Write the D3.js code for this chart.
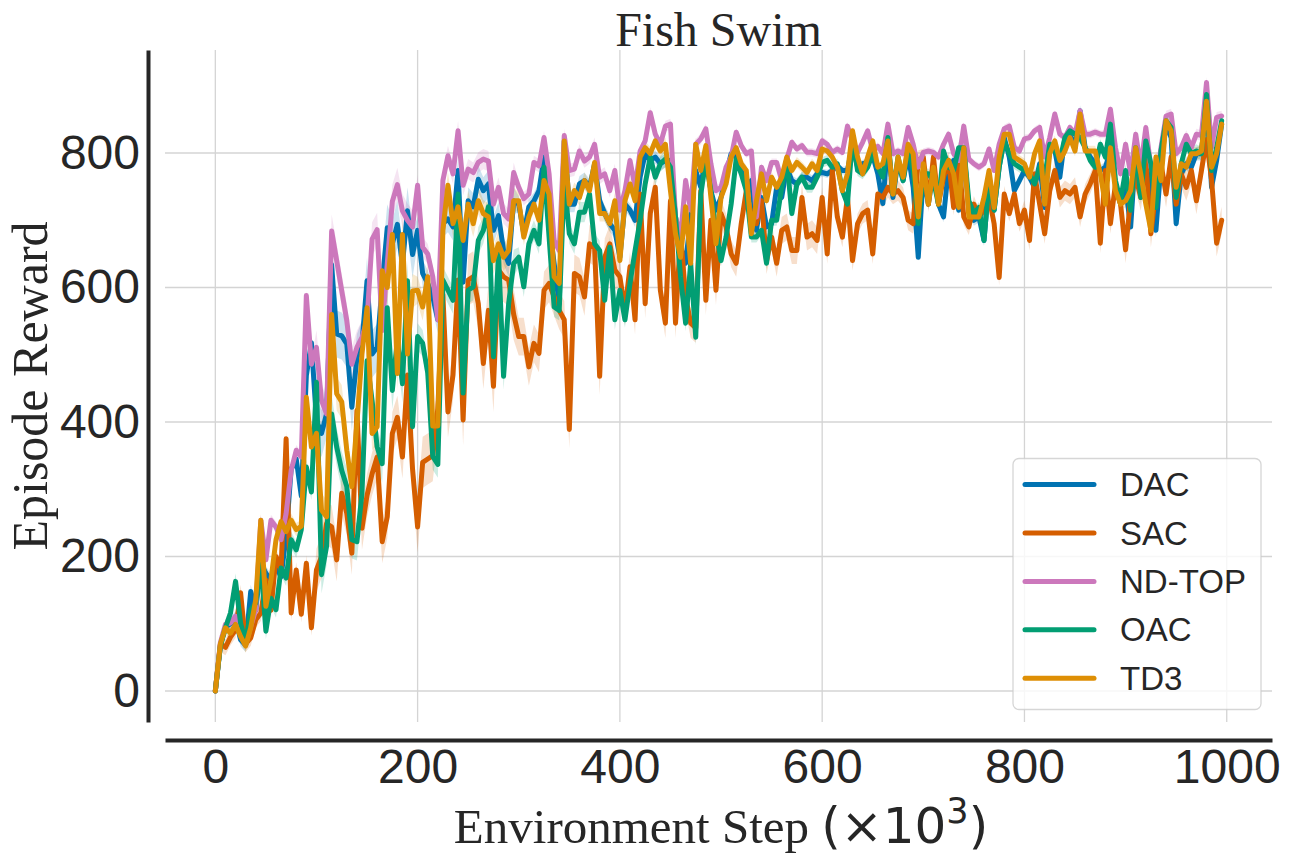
<!DOCTYPE html>
<html>
<head>
<meta charset="utf-8">
<script src="https://cdn.jsdelivr.net/npm/d3@7"></script>
<style>
html, body { margin: 0; padding: 0; background: #fff; }
svg { display: block; }
</style>
</head>
<body>
<svg id="chart" width="1296" height="864"></svg>
<script>
// environment steps (x10^3), one sample every 5k steps
const steps = d3.range(0, 1000, 5);

const seriesNames = ['DAC', 'SAC', 'ND-TOP', 'OAC', 'TD3'];

const dac = [
    0, 68, 95, 100, 108, 76, 68, 148, 120, 190, 175, 165, 185, 170, 230, 330, 345, 290, 469, 518,
    402, 383, 412, 634, 531, 528, 516, 422, 496, 516, 610, 501, 511, 605, 689, 665, 694, 634, 714, 649,
    685, 621, 606, 586, 552, 695, 702, 690, 774, 608, 729, 720, 761, 744, 754, 685, 707, 655, 636, 729,
    724, 680, 720, 729, 744, 794, 695, 636, 576, 818, 724, 724, 754, 759, 749, 784, 729, 710, 695, 685,
    645, 724, 715, 700, 764, 799, 789, 794, 784, 789, 789, 705, 660, 636, 705, 774, 749, 799, 744, 715,
    734, 769, 799, 794, 774, 749, 759, 685, 734, 690, 695, 749, 734, 779, 759, 754, 764, 764, 759, 769,
    771, 769, 774, 781, 774, 774, 813, 779, 784, 786, 796, 769, 725, 818, 734, 789, 759, 799, 749, 645,
    769, 724, 774, 724, 705, 779, 789, 715, 808, 715, 700, 705, 670, 759, 715, 779, 823, 794, 744, 759,
    774, 764, 749, 784, 719, 813, 804, 764, 823, 828, 808, 863, 808, 794, 784, 774, 779, 803, 754, 724,
    749, 690, 803, 744, 808, 744, 685, 784, 843, 823, 695, 769, 784, 779, 799, 799, 882, 749, 789, 843
];

const sac = [
    0, 70, 65, 80, 91, 146, 70, 79, 106, 116, 165, 120, 200, 180, 375, 116, 180, 114, 190, 94,
    180, 200, 249, 244, 195, 294, 264, 205, 417, 242, 291, 323, 348, 222, 259, 383, 407, 348, 470, 330,
    244, 340, 345, 350, 420, 590, 415, 470, 611, 403, 611, 616, 576, 487, 566, 453, 626, 616, 611, 560,
    527, 527, 482, 517, 502, 596, 606, 586, 566, 552, 389, 621, 616, 586, 665, 660, 468, 645, 665, 626,
    616, 566, 631, 552, 739, 576, 710, 749, 596, 547, 729, 547, 680, 586, 547, 540, 744, 581, 700, 596,
    710, 690, 650, 636, 695, 744, 705, 695, 729, 640, 675, 636, 685, 690, 655, 655, 734, 675, 680, 670,
    734, 650, 774, 705, 675, 734, 640, 695, 710, 715, 650, 739, 734, 749, 739, 744, 734, 700, 695, 789,
    794, 724, 794, 724, 764, 789, 719, 794, 705, 690, 724, 705, 715, 734, 695, 615, 739, 710, 739, 695,
    715, 670, 769, 724, 680, 744, 774, 734, 744, 739, 749, 705, 739, 754, 774, 666, 774, 695, 754, 724,
    656, 734, 764, 734, 789, 680, 744, 784, 739, 794, 724, 769, 749, 774, 729, 774, 820, 760, 666, 700
];

const ndtop = [
    0, 72, 99, 101, 111, 86, 69, 96, 121, 254, 195, 254, 244, 225, 264, 328, 358, 348, 588, 486,
    511, 432, 412, 684, 640, 595, 551, 486, 511, 526, 551, 672, 686, 536, 635, 728, 753, 714, 700, 690,
    752, 660, 650, 616, 552, 759, 796, 769, 833, 752, 776, 771, 786, 791, 788, 724, 749, 710, 702, 771,
    749, 732, 739, 786, 781, 823, 769, 670, 655, 826, 774, 776, 803, 788, 794, 813, 764, 769, 744, 774,
    715, 744, 789, 749, 803, 818, 860, 828, 813, 840, 843, 705, 675, 759, 715, 813, 821, 836, 784, 744,
    749, 779, 794, 831, 811, 799, 803, 705, 779, 759, 786, 786, 759, 791, 816, 806, 811, 801, 801, 799,
    818, 813, 801, 806, 801, 840, 818, 801, 816, 833, 803, 810, 799, 843, 799, 803, 799, 838, 813, 779,
    801, 803, 801, 794, 813, 828, 799, 789, 840, 791, 784, 779, 784, 806, 774, 813, 836, 840, 808, 803,
    821, 823, 833, 838, 794, 823, 858, 828, 823, 838, 828, 863, 828, 828, 831, 828, 828, 865, 808, 769,
    813, 769, 828, 779, 838, 779, 754, 808, 855, 858, 799, 808, 826, 808, 828, 826, 905, 808, 853, 855
];

const oac = [
    0, 67, 94, 116, 163, 101, 72, 121, 131, 190, 89, 138, 121, 183, 168, 225, 210, 240, 333, 296,
    459, 173, 215, 412, 363, 328, 304, 225, 222, 294, 491, 432, 363, 338, 570, 447, 523, 457, 610, 393,
    527, 517, 473, 349, 337, 611, 596, 581, 739, 443, 596, 601, 670, 685, 720, 497, 650, 468, 576, 636,
    645, 601, 665, 685, 665, 779, 675, 571, 566, 759, 680, 665, 712, 712, 739, 665, 655, 581, 660, 552,
    596, 552, 606, 655, 700, 754, 794, 764, 784, 791, 779, 705, 616, 547, 636, 526, 739, 789, 744, 685,
    640, 675, 724, 791, 769, 744, 675, 675, 685, 636, 700, 700, 749, 791, 710, 754, 764, 749, 749, 764,
    786, 789, 779, 784, 744, 724, 823, 774, 769, 779, 799, 779, 764, 823, 739, 794, 759, 808, 774, 695,
    769, 769, 759, 724, 803, 779, 774, 808, 808, 729, 710, 719, 670, 759, 715, 779, 818, 799, 784, 779,
    774, 769, 754, 779, 764, 813, 804, 789, 823, 833, 828, 823, 808, 789, 779, 813, 794, 843, 759, 729,
    774, 715, 808, 734, 818, 784, 719, 803, 848, 838, 734, 784, 813, 799, 803, 799, 887, 774, 808, 848
];

const td3 = [
    0, 70, 94, 86, 99, 81, 67, 94, 136, 254, 126, 165, 225, 252, 237, 254, 240, 245, 437, 363,
    383, 269, 259, 560, 442, 430, 358, 304, 398, 501, 570, 383, 393, 625, 600, 679, 472, 679, 501, 595,
    596, 571, 616, 394, 394, 685, 752, 695, 720, 670, 724, 695, 729, 710, 705, 640, 665, 645, 655, 729,
    729, 675, 705, 724, 700, 759, 739, 616, 606, 818, 724, 744, 734, 759, 744, 786, 710, 710, 695, 729,
    640, 729, 754, 729, 794, 808, 799, 818, 803, 813, 744, 680, 645, 720, 636, 813, 774, 811, 734, 665,
    734, 754, 794, 808, 784, 774, 680, 729, 769, 729, 764, 749, 764, 794, 774, 786, 779, 771, 784, 774,
    806, 803, 794, 779, 744, 769, 833, 794, 769, 794, 818, 779, 784, 818, 739, 794, 764, 813, 799, 705,
    784, 724, 779, 724, 774, 789, 769, 719, 808, 705, 705, 705, 734, 774, 719, 794, 828, 828, 794, 789,
    784, 764, 799, 818, 724, 799, 818, 789, 803, 823, 803, 858, 803, 803, 803, 769, 724, 808, 744, 724,
    729, 744, 808, 769, 724, 685, 794, 759, 848, 833, 749, 784, 779, 799, 799, 803, 877, 779, 799, 843
];

// confidence half-width per 100k-step block
const ciDac   = [10, 35, 20, 12, 10, 8, 6, 8, 8, 10];
const ciSac   = [12, 32, 38, 28, 22, 20, 15, 12, 15, 20];
const ciNdtop = [8, 25, 15, 10, 8, 6, 6, 6, 6, 8];
const ciOac   = [12, 28, 20, 15, 12, 8, 8, 8, 8, 10];
const ciTd3   = [10, 25, 20, 12, 10, 8, 6, 8, 8, 10];

const xTicks = [0, 200, 400, 600, 800, 1000];
const yTicks = [0, 200, 400, 600, 800];

const seriesColors = {
    'DAC': '#0173b2',
    'SAC': '#d55e00',
    'ND-TOP': '#cc78bc',
    'OAC': '#029e73',
    'TD3': '#de8f05'
};

const seriesData = {
    'DAC': { values: dac, ci: ciDac },
    'SAC': { values: sac, ci: ciSac },
    'ND-TOP': { values: ndtop, ci: ciNdtop },
    'OAC': { values: oac, ci: ciOac },
    'TD3': { values: td3, ci: ciTd3 }
};

const serif = '"Liberation Serif", "Times New Roman", Times, serif';
const sans = '"Liberation Sans", Arial, Helvetica, sans-serif';
const mathFont = '"DejaVu Sans", sans-serif';
const ink = '#262626';

const plot = { left: 165, right: 1272, top: 50, bottom: 722 };

const svg = d3.select('#chart');

const x = d3.scaleLinear().domain([-49.75, 1044.75]).range([plot.left, plot.right]);
const y = d3.scaleLinear().domain([-46.1, 953.2]).range([plot.bottom, plot.top]);

// Grid
const grid = svg.append('g').attr('class', 'grid');
grid.selectAll('line.h').data(yTicks).enter().append('line')
    .attr('x1', plot.left).attr('x2', plot.right)
    .attr('y1', d => y(d)).attr('y2', d => y(d))
    .attr('stroke', '#d4d4d4').attr('stroke-width', 1.3);
grid.selectAll('line.v').data(xTicks).enter().append('line')
    .attr('y1', plot.top).attr('y2', plot.bottom)
    .attr('x1', d => x(d)).attr('x2', d => x(d))
    .attr('stroke', '#d4d4d4').attr('stroke-width', 1.3);

// Bands + lines
const area = d3.area()
    .x(d => x(d.step))
    .y0(d => y(d.v - d.c))
    .y1(d => y(d.v + d.c));

const line = d3.line()
    .x(d => x(d.step))
    .y(d => y(d.v));

const rowsFor = name => {
    const s = seriesData[name];
    return steps.map((st, i) => ({
        step: st,
        v: s.values[i],
        c: i === 0 ? 0 : s.ci[Math.floor(st / 100)]
    }));
};

const bands = svg.append('g').attr('class', 'bands');
seriesNames.forEach(name => {
    bands.append('path')
        .datum(rowsFor(name))
        .attr('d', area)
        .attr('fill', seriesColors[name])
        .attr('fill-opacity', 0.2)
        .attr('stroke', 'none');
});

const lines = svg.append('g').attr('class', 'lines');
seriesNames.forEach(name => {
    lines.append('path')
        .datum(rowsFor(name))
        .attr('d', line)
        .attr('fill', 'none')
        .attr('stroke', seriesColors[name])
        .attr('stroke-width', 5)
        .attr('stroke-linejoin', 'round')
        .attr('stroke-linecap', 'round');
});

// Axes (offset spines)
const xAxis = svg.append('g')
    .attr('transform', 'translate(0,740)')
    .call(d3.axisBottom(x).tickValues(xTicks).tickFormat(d3.format('d'))
        .tickSize(0).tickSizeOuter(0).tickPadding(9));
const yAxis = svg.append('g')
    .attr('transform', 'translate(148,0)')
    .call(d3.axisLeft(y).tickValues(yTicks).tickFormat(d3.format('d'))
        .tickSize(0).tickSizeOuter(0).tickPadding(8));

[xAxis, yAxis].forEach(ax => {
    ax.select('.domain').attr('stroke', ink).attr('stroke-width', 4);
    ax.selectAll('text')
        .attr('fill', ink)
        .attr('font-family', sans)
        .attr('font-size', '48px');
});

// Title
svg.append('text')
    .attr('x', (plot.left + plot.right) / 2)
    .attr('y', 46)
    .attr('text-anchor', 'middle')
    .attr('font-family', serif)
    .attr('font-size', '48px')
    .attr('fill', ink)
    .text('Fish Swim');

// Y label
svg.append('text')
    .attr('transform', `translate(47,${(plot.top + plot.bottom) / 2}) rotate(-90)`)
    .attr('text-anchor', 'middle')
    .attr('font-family', serif)
    .attr('font-size', '50px')
    .attr('fill', ink)
    .text('Episode Reward');

// X label with mathtext part
const xl = svg.append('text')
    .attr('x', 721)
    .attr('y', 843)
    .attr('text-anchor', 'middle')
    .attr('font-size', '49px')
    .attr('fill', ink);
xl.append('tspan').attr('font-family', serif).text('Environment Step ');
xl.append('tspan').attr('font-family', mathFont).attr('font-size', '50px').text('(×10');
xl.append('tspan').attr('font-family', mathFont).attr('font-size', '35px').attr('dy', -20).text('3');
xl.append('tspan').attr('font-family', mathFont).attr('font-size', '50px').attr('dy', 20).text(')');

// Legend
const legend = svg.append('g').attr('class', 'legend');
legend.append('rect')
    .attr('x', 1013).attr('y', 458.5)
    .attr('width', 248).attr('height', 251)
    .attr('rx', 6)
    .attr('fill', '#fff').attr('fill-opacity', 0.8)
    .attr('stroke', '#cccccc').attr('stroke-opacity', 0.8).attr('stroke-width', 1.3);

const items = legend.selectAll('g.item').data(seriesNames).enter().append('g')
    .attr('class', 'item')
    .attr('transform', (d, i) => `translate(0,${484.6 + i * 48.4})`);
items.append('line')
    .attr('x1', 1025).attr('x2', 1094)
    .attr('y1', 0).attr('y2', 0)
    .attr('stroke', d => seriesColors[d])
    .attr('stroke-width', 5)
    .attr('stroke-linecap', 'round');
items.append('text')
    .attr('x', 1120).attr('y', 11.5)
    .attr('font-family', sans)
    .attr('font-size', '33px')
    .attr('fill', ink)
    .text(d => d);
</script>
</body>
</html>
